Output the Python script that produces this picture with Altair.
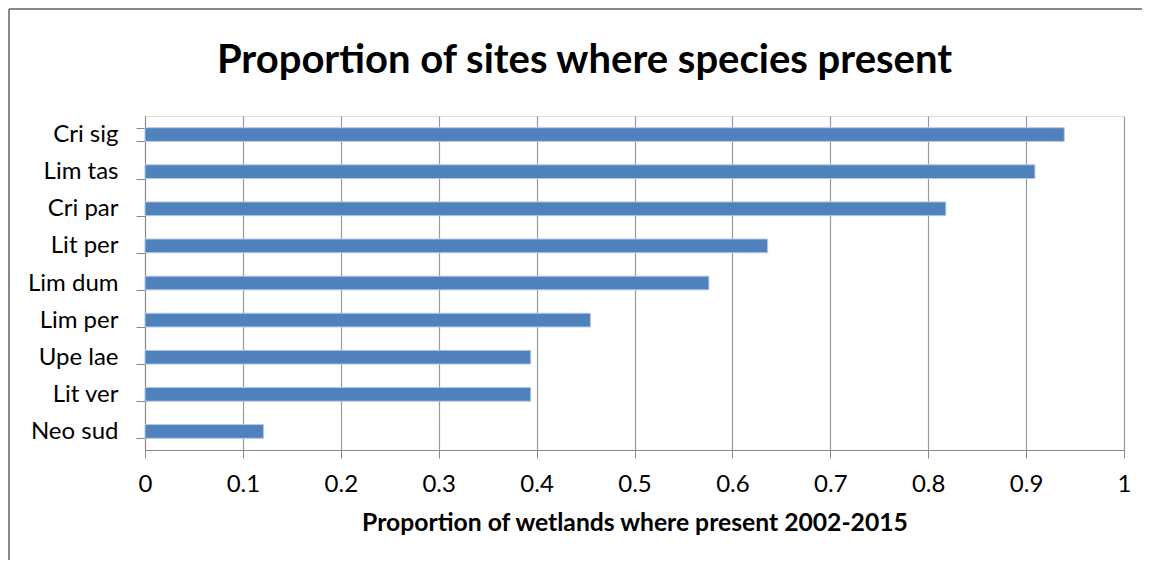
import altair as alt
import pandas as pd

species = ["Cri sig", "Lim tas", "Cri par", "Lit per", "Lim dum",
           "Lim per", "Upe lae", "Lit ver", "Neo sud"]
proportion = [0.939, 0.909, 0.818, 0.636, 0.576, 0.455, 0.394, 0.394, 0.121]
x_ticks = [0, 0.1, 0.2, 0.3, 0.4, 0.5, 0.6, 0.7, 0.8, 0.9, 1.0]

df = pd.DataFrame({"species": species, "proportion": proportion})

W, H = 979, 334
PL, PT, PR, PB = 137, 108, 18, 110
FONT = "Lato"

bars = alt.Chart(df).mark_bar(
    color="#4F81BD", stroke="#b4c8e4", strokeWidth=1
).encode(
    y=alt.Y("species:N", sort=species,
            scale=alt.Scale(paddingInner=0.63, paddingOuter=0.315),
            axis=alt.Axis(title=None, tickBand="extent", tickSize=9,
                          labelPadding=18, labelFontSize=24, labelFont=FONT,
                          labelColor="#000", domainColor="#888", tickColor="#888",
                          grid=False)),
    x=alt.X("proportion:Q",
            scale=alt.Scale(domain=[0, 1], nice=False),
            axis=alt.Axis(title="Proportion of wetlands where present 2002-2015",
                          values=x_ticks, format="~g", tickSize=8,
                          labelFlush=False,
                          labelPadding=14, labelFontSize=24, labelFont=FONT,
                          labelColor="#000", titleFont=FONT, titleFontSize=24.7,
                          titleFontWeight="bold", titleColor="#000",
                          titlePadding=14, domainColor="#888", tickColor="#888",
                          grid=True, gridColor="#9a9a9a", gridWidth=1.2)),
)

frame = pd.DataFrame({"k": [0]})
left_border = alt.Chart(frame).mark_rule(color="#888", strokeWidth=2).encode(
    x=alt.value(-136), y=alt.value(-107), y2=alt.value(H + PB))
top_border = alt.Chart(frame).mark_rule(color="#888", strokeWidth=2).encode(
    x=alt.value(-136), x2=alt.value(W + PR), y=alt.value(-107))

chart = alt.layer(bars, left_border, top_border).properties(
    width=W, height=H,
    title=alt.TitleParams("Proportion of sites where species present",
                          font=FONT, fontSize=40, fontWeight="bold", color="#000",
                          anchor="middle", frame="group", dx=-50, offset=-105,
                          baseline="alphabetic"),
    autosize=alt.AutoSizeParams(type="none"),
    padding={"left": PL, "top": PT, "right": PR, "bottom": PB},
).configure_view(stroke=None).configure(background="white")

chart.save("out.html", embed_options={"renderer": "svg", "actions": False})
